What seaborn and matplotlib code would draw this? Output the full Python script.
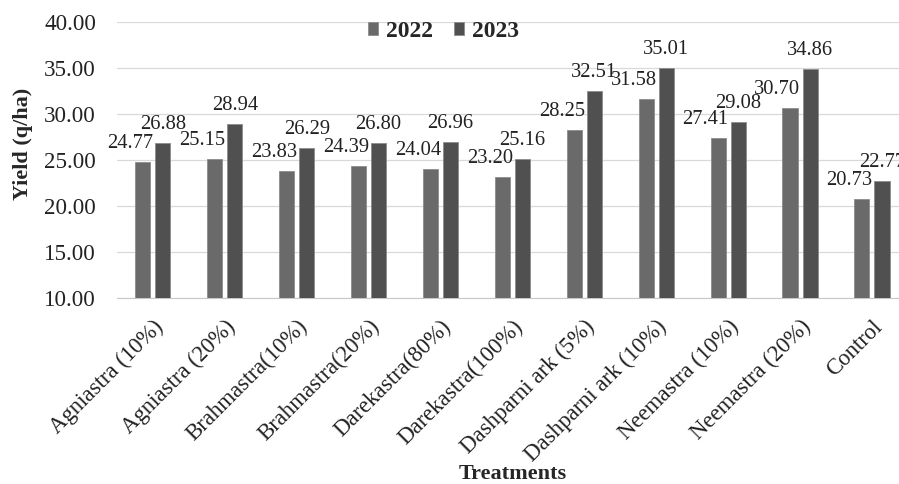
import matplotlib
matplotlib.use("Agg")
import matplotlib.pyplot as plt
import pandas as pd
import seaborn as sns

treatments = ["Agniastra (10%)", "Agniastra (20%)", "Brahmastra(10%)", "Brahmastra(20%)",
              "Darekastra(80%)", "Darekastra(100%)", "Dashparni ark (5%)", "Dashparni ark (10%)",
              "Neemastra (10%)", "Neemastra (20%)", "Control"]
yield_2022 = [24.77, 25.15, 23.83, 24.39, 24.04, 23.20, 28.25, 31.58, 27.41, 30.70, 20.73]
yield_2023 = [26.88, 28.94, 26.29, 26.80, 26.96, 25.16, 32.51, 35.01, 29.08, 34.86, 22.77]
years = ["2022", "2023"]
y_ticks = [10, 15, 20, 25, 30, 35, 40]

df = pd.DataFrame({
    "Treatment": treatments * 2,
    "Year": [years[0]] * len(treatments) + [years[1]] * len(treatments),
    "Yield": yield_2022 + yield_2023,
})

sns.set_style("white")
plt.rcParams['font.family'] = ['Liberation Serif', 'DejaVu Serif']

fig = plt.figure(figsize=(8.99, 4.84), dpi=100)
ax = fig.add_axes([0.130, 0.3843, 0.870, 0.5702])

colors = ["#6a6a6a", "#505050"]
sns.barplot(data=df, x="Treatment", y="Yield", hue="Year", palette=colors,
            width=0.56, gap=0.25, edgecolor="#8c8c8c", linewidth=0.6,
            saturation=1, ax=ax, zorder=3)

# data labels: 2022 right-aligned at bar edge, 2023 centred
for i, cont in enumerate(ax.containers):
    for bar in cont:
        h = bar.get_height()
        if i == 0:
            ax.annotate(f"{h:.2f}", (bar.get_x() + bar.get_width(), h),
                        xytext=(3, 9), textcoords="offset pixels",
                        ha="right", va="bottom", fontsize=14.8, color="#222222")
        else:
            ax.annotate(f"{h:.2f}", (bar.get_x() + bar.get_width() / 2, h),
                        xytext=(0, 9), textcoords="offset pixels",
                        ha="center", va="bottom", fontsize=14.8, color="#222222")

ax.set_ylim(10, 40)
ax.set_xlim(-0.5, 10.376)
ax.set_yticks(y_ticks)
ax.set_yticklabels([f"{t:.2f}" for t in y_ticks], fontsize=16.6, color="#222222")
ax.yaxis.grid(True, color="#d9d9d9", linewidth=0.9, zorder=0)
ax.set_axisbelow(True)
for s in ["left", "right", "top"]:
    ax.spines[s].set_visible(False)
ax.spines["bottom"].set_color("#c8c8c8")
ax.tick_params(axis="y", length=0, pad=15)
ax.tick_params(axis="x", length=0, pad=13)

plt.setp(ax.get_xticklabels(), rotation=45, ha="right", rotation_mode="anchor",
         fontsize=16.4, color="#222222")

ax.set_xlabel("Treatments", fontsize=16, fontweight="bold")
ax.set_ylabel("Yield (q/ha)", fontsize=16, fontweight="bold")
ax.xaxis.label.set_va("center")
ax.yaxis.label.set_va("center")
ax.xaxis.set_label_coords(0.506, -0.638)
ax.yaxis.set_label_coords(-0.120, 0.56)

handles, labels = ax.get_legend_handles_labels()
ax.legend(handles, labels, loc="center", bbox_to_anchor=(0.493, 0.935),
          bbox_transform=fig.transFigure, ncol=2, frameon=False,
          handlelength=0.45, handleheight=0.45, handletextpad=0.3,
          columnspacing=0.9, prop={"weight": "bold", "size": 17})

fig.savefig("out.png", dpi=100)
